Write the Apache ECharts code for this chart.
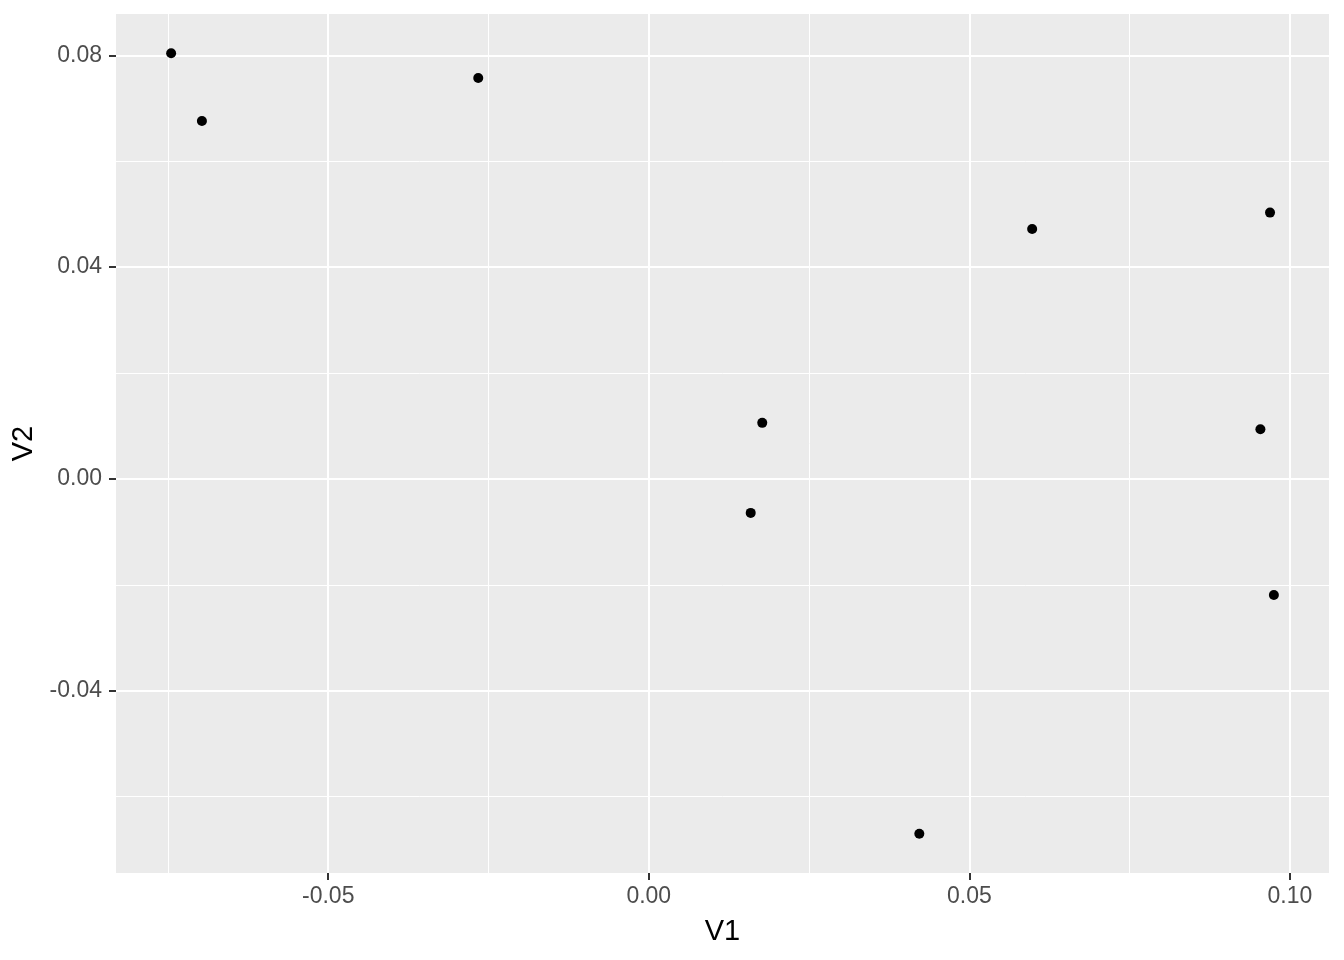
<!DOCTYPE html>
<html>
<head>
<meta charset="utf-8">
<script src="https://cdn.jsdelivr.net/npm/echarts@6/dist/echarts.min.js"></script>
<style>
  html, body { margin: 0; padding: 0; background: #fff; }
  #chart { width: 1344px; height: 960px; }
</style>
</head>
<body>
<div id="chart"></div>
<script>
// point coordinates
const v1 = [-0.0745, -0.0697, -0.0266, 0.0177, 0.0159, 0.0422, 0.0598, 0.0969, 0.0954, 0.0975];
const v2 = [0.0804, 0.0676, 0.0757, 0.0106, -0.0064, -0.0670, 0.0472, 0.0503, 0.0094, -0.0219];

// axis breaks
const xBreaks = [-0.05, 0, 0.05, 0.1];
const xMinor = [-0.075, -0.025, 0.025, 0.075];
const yBreaks = [-0.04, 0, 0.04, 0.08];
const yMinor = [-0.06, -0.02, 0.02, 0.06];
const xRange = [-0.0831, 0.1061];
const yRange = [-0.0744, 0.0878];

const chart = echarts.init(document.getElementById('chart'));

const fmt = v => v.toFixed(2);
const tickStyle = { show: true, length: 7, lineStyle: { color: '#333333', width: 2 } };
const labelStyle = { color: '#4D4D4D', fontSize: 23, fontFamily: 'Liberation Sans, Arial, sans-serif', formatter: fmt };

// only gridlines, used for the minor breaks
const minorAxis = (range, values) => ({
  type: 'value',
  min: range[0],
  max: range[1],
  axisLine: { show: false, onZero: false },
  axisLabel: { show: false },
  axisTick: { show: false, customValues: values },
  splitLine: { show: true, lineStyle: { color: '#FFFFFF', width: 1 } }
});

const option = {
  animation: false,
  grid: {
    left: 116, right: 15, top: 14, bottom: 87,
    show: true, backgroundColor: '#EBEBEB', borderWidth: 0
  },
  xAxis: [
    {
      type: 'value',
      min: xRange[0],
      max: xRange[1],
      name: 'V1',
      nameLocation: 'middle',
      nameGap: 44,
      nameTextStyle: { color: '#000', fontSize: 29, fontFamily: 'Liberation Sans, Arial, sans-serif' },
      axisLine: { show: false, onZero: false },
      axisTick: Object.assign({ customValues: xBreaks }, tickStyle),
      axisLabel: Object.assign({ customValues: xBreaks, margin: 12 }, labelStyle),
      splitLine: { show: true, lineStyle: { color: '#FFFFFF', width: 2 } }
    },
    minorAxis(xRange, xMinor)
  ],
  yAxis: [
    {
      type: 'value',
      min: yRange[0],
      max: yRange[1],
      name: 'V2',
      nameLocation: 'middle',
      nameGap: 72,
      nameRotate: 90,
      nameTextStyle: { color: '#000', fontSize: 29, fontFamily: 'Liberation Sans, Arial, sans-serif' },
      axisLine: { show: false, onZero: false },
      axisTick: Object.assign({ customValues: yBreaks }, tickStyle),
      axisLabel: Object.assign({ customValues: yBreaks, margin: 14 }, labelStyle),
      splitLine: { show: true, lineStyle: { color: '#FFFFFF', width: 2 } }
    },
    minorAxis(yRange, yMinor)
  ],
  series: [
    {
      type: 'scatter',
      xAxisIndex: 0,
      yAxisIndex: 0,
      data: v1.map((x, i) => [x, v2[i]]),
      symbolSize: 10,
      itemStyle: { color: '#000000', opacity: 1 },
      z: 5
    }
  ]
};

chart.setOption(option);
</script>
</body>
</html>
